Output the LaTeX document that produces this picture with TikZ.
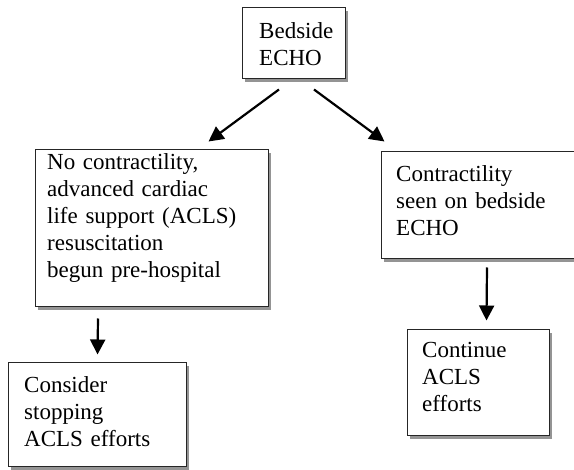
\documentclass[tikz,border=0pt]{standalone}
\usepackage{fontspec}
\setmainfont{Liberation Serif}
\usetikzlibrary{shadows,arrows.meta,positioning}
\begin{document}
\begin{tikzpicture}[x=1pt,y=-1pt,
  box/.style={draw=black!85, line width=1pt, fill=white, inner sep=0pt,
    drop shadow={shadow xshift=3pt, shadow yshift=-3pt, fill=black!42, opacity=1}},
  txt/.style={anchor=base west, inner sep=0pt, align=left, text width=#1,
    font=\fontsize{23pt}{26.8pt}\selectfont},
  flow/.style={line width=2.2pt, -{Triangle[length=15pt,width=15pt]}}
]
\useasboundingbox (0,0) rectangle (574,470);

% boxes
\node[box, minimum width=103pt, minimum height=71pt]  (top)   at (293.5,43.5) {};
\node[box, minimum width=233pt, minimum height=157pt] (left)  at (151.5,228.5) {};
\node[box, minimum width=199pt, minimum height=107pt] (right) at (480.5,205.5) {};
\node[box, minimum width=178pt, minimum height=104pt] (bl)    at (97,415) {};
\node[box, minimum width=142pt, minimum height=106pt] (br)    at (478,383) {};

% labels
\node[txt=90pt]  (ttop)   at (259,39)  {Bedside\\ECHO};
\node[txt=215pt] (tleft)  at (47,170)  {No contractility,\\advanced cardiac\\life support (ACLS)\\resuscitation\\begun pre-hospital};
\node[txt=170pt] (tright) at (396,182) {Contractility\\seen on bedside\\ECHO};
\node[txt=160pt] (tbl)    at (24,393)  {Consider\\stopping\\ACLS efforts};
\node[txt=120pt] (tbr)    at (422,358) {Continue\\ACLS\\efforts};

% connectors
\draw[flow] ([shift={(-14.5,10)}]top.south) -- ([shift={(-60,-8)}]left.north east);
\draw[flow] ([shift={(20.5,10)}]top.south) -- ([shift={(4,-10)}]right.north west);
\draw[flow] ([shift={(-53.5,11)}]left.south) -- ([shift={(90,-8)}]bl.north west);
\draw[flow] ([shift={(6.5,8)}]right.south) -- ([shift={(80,-9)}]br.north west);
\end{tikzpicture}
\end{document}
